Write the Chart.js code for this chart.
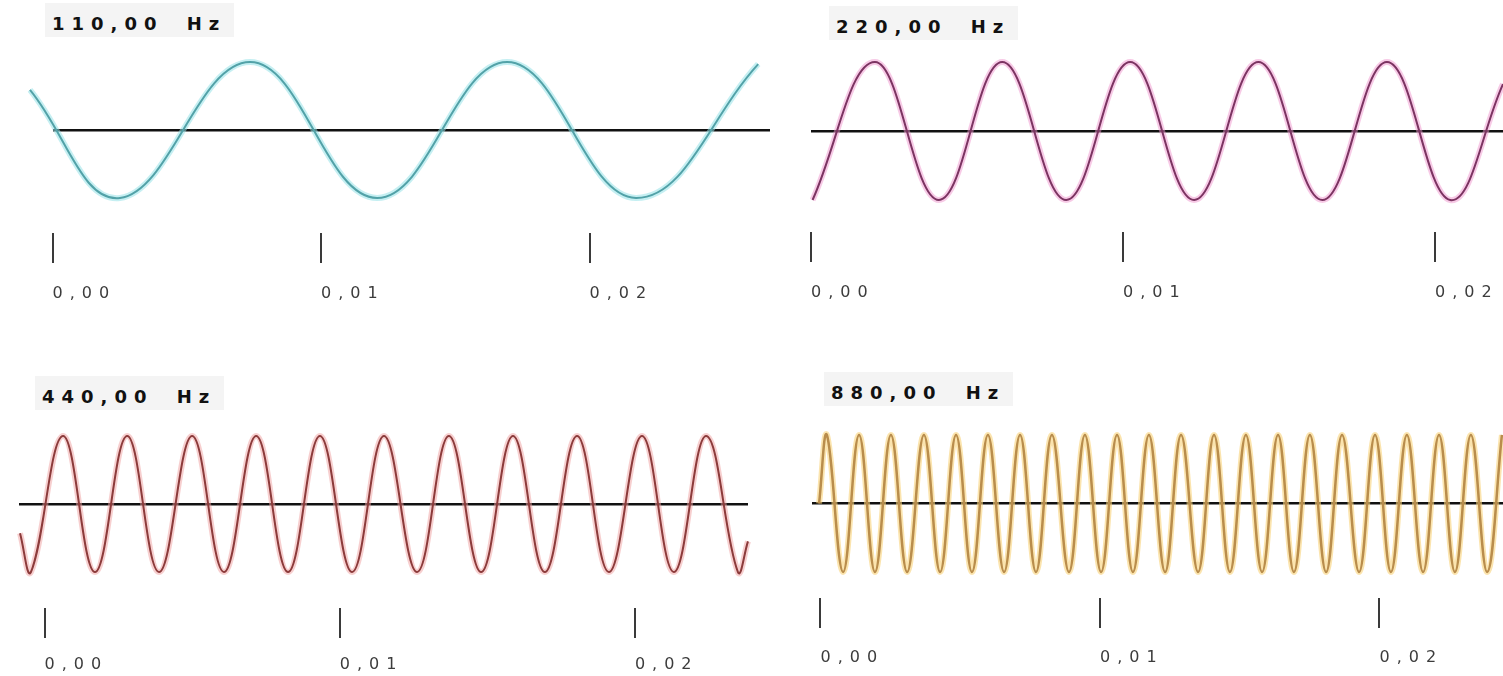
<!DOCTYPE html>
<html>
<head>
<meta charset="utf-8">
<script src="https://cdn.jsdelivr.net/npm/chart.js@4.4.1/dist/chart.umd.min.js"></script>
<style>
  html, body { margin: 0; padding: 0; background: #fff; }
  body { width: 1503px; height: 676px; position: relative; overflow: hidden; }
  canvas { position: absolute; }
  .title {
    position: absolute; background: #f4f4f4; color: #111;
    font: bold 18px 'DejaVu Sans', sans-serif;
    letter-spacing: 7px; word-spacing: 10px; line-height: 22px;
    padding: 10px 8px 2px 7px; white-space: nowrap;
  }
</style>
</head>
<body>
<script>
// time axis (seconds)
const tickValues = [0, 0.01, 0.02];
const tickLabels = ['0,00', '0,01', '0,02'];
const titles = ['110,00 Hz', '220,00 Hz', '440,00 Hz', '880,00 Hz'];

// each wave: times (s) of start, peaks/troughs, end — and the amplitude there
const t110 = [-0.00084, 0.00251, 0.00736, 0.01209, 0.01693, 0.02173, 0.02628];
const a110 = [0.59, -1, 1, -1, 1, -1, 0.97];

const t220 = [0.00005, 0.00205, 0.00410, 0.00613, 0.00818, 0.01023, 0.01228, 0.01434,
              0.01639, 0.01846, 0.02049, 0.02218];
const a220 = [-1, 1, -1, 1, -1, 1, -1, 1, -1, 1, -1, 0.68];

const t440 = [-0.00083, -0.00046, 0.00063, 0.00171, 0.00280, 0.00388, 0.00500, 0.00608,
              0.00717, 0.00825, 0.00933, 0.01042, 0.01150, 0.01262, 0.01370, 0.01479,
              0.01587, 0.01695, 0.01804, 0.01912, 0.02024, 0.02132, 0.02241, 0.02349, 0.02383];
const a440 = [-0.43, -1, 1, -1, 1, -1, 1, -1, 1, -1, 1, -1, 1, -1, 1, -1, 1, -1, 1, -1, 1, -1, 1, -1, -0.55];

const t880 = [-0.00005, 0.00023, 0.00081, 0.00138, 0.00195, 0.00252, 0.00310, 0.00370, 0.00428,
              0.00485, 0.00542, 0.00599, 0.00657, 0.00714, 0.00771, 0.00828, 0.00889,
              0.00946, 0.01004, 0.01061, 0.01118, 0.01175, 0.01233, 0.01290, 0.01351,
              0.01408, 0.01465, 0.01522, 0.01580, 0.01637, 0.01694, 0.01751, 0.01809,
              0.01866, 0.01927, 0.01984, 0.02041, 0.02098, 0.02156, 0.02213, 0.02270,
              0.02327, 0.02385, 0.02438];
const a880 = [0, 1, -1, 1, -1, 1, -1, 1, -1, 1, -1, 1, -1, 1, -1, 1, -1, 1, -1, 1, -1, 1,
              -1, 1, -1, 1, -1, 1, -1, 1, -1, 1, -1, 1, -1, 1, -1, 1, -1, 1, -1, 1, -1, 1];

// layout of the four panels (page px) and their colours
const panels = [
  { t: t110, a: a110, box: [0, 40, 780, 263], pad: [52.5, 10], x: [0, 0.02672], y: [-1.515, 1.324],
    labelPad: 21, color: '#52a2a8', width: 2, halo: 'rgba(150,225,232,0.55)', title: [45, 3] },
  { t: t220, a: a220, box: [790, 40, 713, 262], pad: [15.5, 0], x: [0, 0.02218], y: [-1.464, 1.319],
    labelPad: 21, color: '#7c3462', width: 2, halo: 'rgba(240,150,205,0.5)', title: [829, 6] },
  { t: t440, a: a440, box: [0, 410, 770, 268], pad: [19, 22], x: [-0.000864, 0.023831], y: [-1.529, 1.382],
    labelPad: 17, color: '#8c3b3b', width: 2, halo: 'rgba(240,160,160,0.5)', title: [35, 376] },
  { t: t880, a: a880, box: [790, 410, 713, 258], pad: [22, 0], x: [-0.000304, 0.024419], y: [-1.380, 1.365],
    labelPad: 20, color: '#b98d4c', width: 2.5, halo: 'rgba(248,210,120,0.6)', title: [824, 372] }
];

// spaced-out tick labels like the original
const spacedTicks = {
  id: 'spacedTicks',
  beforeDraw(chart) { chart.ctx.letterSpacing = '7px'; },
  afterDraw(chart) { chart.ctx.letterSpacing = '0px'; }
};

panels.forEach((p, i) => {
  const title = document.createElement('div');
  title.className = 'title';
  title.textContent = titles[i];
  title.style.left = p.title[0] + 'px';
  title.style.top = p.title[1] + 'px';
  document.body.appendChild(title);

  const canvas = document.createElement('canvas');
  canvas.width = p.box[2];
  canvas.height = p.box[3];
  canvas.style.left = p.box[0] + 'px';
  canvas.style.top = p.box[1] + 'px';
  document.body.appendChild(canvas);

  const points = p.t.map((t, k) => ({ x: t, y: p.a[k] }));

  new Chart(canvas.getContext('2d'), {
    type: 'line',
    data: {
      datasets: [
        { data: points, borderColor: p.color, borderWidth: p.width, pointRadius: 0, tension: 0.4, clip: false },
        { data: points, borderColor: p.halo, borderWidth: 6, pointRadius: 0, tension: 0.4, clip: false }
      ]
    },
    options: {
      responsive: false,
      devicePixelRatio: 1,
      animation: false,
      events: [],
      layout: { autoPadding: false, padding: { left: p.pad[0], right: p.pad[1], top: 0, bottom: 0 } },
      elements: { line: { capBezierPoints: false } },
      plugins: { legend: { display: false }, tooltip: { enabled: false } },
      scales: {
        x: {
          type: 'linear',
          min: p.x[0],
          max: p.x[1],
          afterBuildTicks: s => { s.ticks = tickValues.map(v => ({ value: v })); },
          afterFit: s => { s.height = 70; },
          border: { display: false },
          grid: { drawOnChartArea: false, drawTicks: true, tickLength: 30, color: '#3a3a3a', lineWidth: 2 },
          ticks: {
            autoSkip: false, maxRotation: 0, align: 'start', padding: p.labelPad,
            color: '#3c3c3c', font: { family: 'DejaVu Sans', size: 16 },
            callback: (v, k) => tickLabels[k]
          }
        },
        y: {
          min: p.y[0],
          max: p.y[1],
          z: 1,
          afterBuildTicks: s => { s.ticks = [{ value: 0 }]; },
          afterFit: s => { s.width = 0; },
          border: { display: false },
          grid: { drawTicks: false, color: '#111', lineWidth: 2.5 },
          ticks: { display: false }
        }
      }
    },
    plugins: [spacedTicks]
  });
});
</script>
</body>
</html>
